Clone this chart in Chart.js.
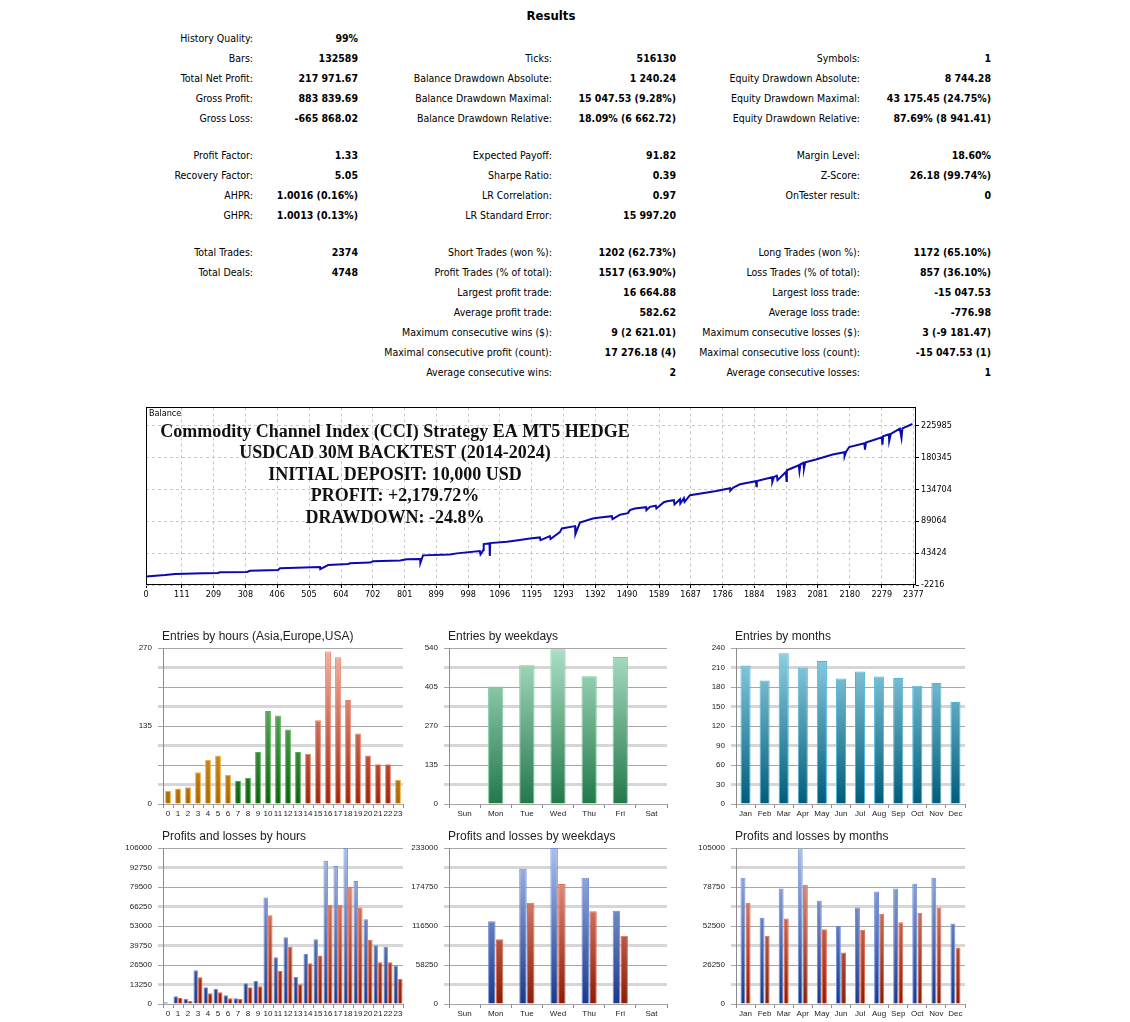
<!DOCTYPE html>
<html>
<head>
<meta charset="utf-8">
<script src="https://cdn.jsdelivr.net/npm/chart.js@4.4.1/dist/chart.umd.min.js"></script>
<style>
html, body { margin: 0; padding: 0; background: #fff; }
body {
  width: 1130px; height: 1022px; position: relative; overflow: hidden;
  font-family: "DejaVu Sans Condensed", "DejaVu Sans", sans-serif; font-stretch: condensed;
}
.t { position: absolute; font-size: 10.5px; line-height: 14px; white-space: nowrap; color: #000; }
.v { font-weight: bold; }
#results { position: absolute; left: 0; width: 1102px; top: 8px; line-height: 16px; text-align: center; font-size: 13px; font-weight: bold; }
canvas { position: absolute; }
</style>
</head>
<body>
<div id="results">Results</div>
<canvas id="balance" width="850" height="205" style="left:140px;top:400px;width:850px;height:205px"></canvas>
<canvas id="hEntries" width="292" height="196" style="left:115px;top:626px;width:292px;height:196px"></canvas>
<canvas id="wEntries" width="271" height="196" style="left:401px;top:626px;width:271px;height:196px"></canvas>
<canvas id="mEntries" width="282" height="196" style="left:688px;top:626px;width:282px;height:196px"></canvas>
<canvas id="hPL" width="292" height="196" style="left:115px;top:826px;width:292px;height:196px"></canvas>
<canvas id="wPL" width="271" height="196" style="left:401px;top:826px;width:271px;height:196px"></canvas>
<canvas id="mPL" width="282" height="196" style="left:688px;top:826px;width:282px;height:196px"></canvas>
<script>
// report table: y, then label/value pairs for the three columns
const statRows = [
  [38, "History Quality:", "99%", "", "", "", ""],
  [58, "Bars:", "132589", "Ticks:", "516130", "Symbols:", "1"],
  [78, "Total Net Profit:", "217 971.67", "Balance Drawdown Absolute:", "1 240.24", "Equity Drawdown Absolute:", "8 744.28"],
  [98, "Gross Profit:", "883 839.69", "Balance Drawdown Maximal:", "15 047.53 (9.28%)", "Equity Drawdown Maximal:", "43 175.45 (24.75%)"],
  [118, "Gross Loss:", "-665 868.02", "Balance Drawdown Relative:", "18.09% (6 662.72)", "Equity Drawdown Relative:", "87.69% (8 941.41)"],
  [155, "Profit Factor:", "1.33", "Expected Payoff:", "91.82", "Margin Level:", "18.60%"],
  [175, "Recovery Factor:", "5.05", "Sharpe Ratio:", "0.39", "Z-Score:", "26.18 (99.74%)"],
  [195, "AHPR:", "1.0016 (0.16%)", "LR Correlation:", "0.97", "OnTester result:", "0"],
  [215, "GHPR:", "1.0013 (0.13%)", "LR Standard Error:", "15 997.20", "", ""],
  [252, "Total Trades:", "2374", "Short Trades (won %):", "1202 (62.73%)", "Long Trades (won %):", "1172 (65.10%)"],
  [272, "Total Deals:", "4748", "Profit Trades (% of total):", "1517 (63.90%)", "Loss Trades (% of total):", "857 (36.10%)"],
  [292, "", "", "Largest profit trade:", "16 664.88", "Largest loss trade:", "-15 047.53"],
  [312, "", "", "Average profit trade:", "582.62", "Average loss trade:", "-776.98"],
  [332, "", "", "Maximum consecutive wins ($):", "9 (2 621.01)", "Maximum consecutive losses ($):", "3 (-9 181.47)"],
  [352, "", "", "Maximal consecutive profit (count):", "17 276.18 (4)", "Maximal consecutive loss (count):", "-15 047.53 (1)"],
  [372, "", "", "Average consecutive wins:", "2", "Average consecutive losses:", "1"]
];
const colEdges = [[253, 358], [552, 676], [860, 991]];

// balance curve (trade number, balance)
const balanceTrades = [0, 59, 90, 177, 223, 229, 313, 322, 409, 415, 539, 540, 564, 626, 632, 694, 703, 787, 808, 849, 850, 858, 941, 963,
  1034, 1036, 1045, 1046, 1064, 1065, 1066, 1118, 1158, 1189, 1220, 1222, 1251, 1253, 1282, 1288, 1329, 1330, 1344, 1384, 1406, 1443, 1445,
  1468, 1493, 1499, 1514, 1549, 1550, 1561, 1579, 1581, 1604, 1614, 1635, 1637, 1654, 1655, 1666, 1668, 1685, 1767, 1809, 1810, 1819,
  1840, 1889, 1891, 1892, 1939, 1940, 1945, 1954, 1956, 1982, 1984, 1985, 2022, 2024, 2027, 2036, 2038, 2042, 2075, 2127, 2163, 2164,
  2168, 2178, 2225, 2227, 2230, 2279, 2281, 2283, 2301, 2302, 2307, 2335, 2340, 2343, 2374];
const balanceValues = [10000, 12046, 13473, 14471, 14899, 15897, 16325, 18179, 19178, 21602, 23457, 20604, 26309, 27735, 28734, 29875, 31586, 32727, 34439, 34867, 29589, 40144, 41285, 42996,
  46277, 41570, 47703, 56260, 57200, 39145, 57687, 59541, 61965, 64105, 65816, 61965, 67670, 63392, 73375, 78652, 81933, 70523, 86925, 92915, 94341, 96195, 91917,
  98335, 100474, 104753, 107177, 109032, 104753, 109459, 111171, 107177, 116163, 117589, 119015, 112882, 120442, 114309, 121868, 116591, 126147, 132279, 136130, 132565, 137129,
  141835, 146114, 138983, 146542, 151819, 145116, 152247, 153958, 147540, 159378, 146542, 161803, 168934, 160377, 170360, 172500, 164227, 173213, 177064, 184195, 187475, 182198,
  187903, 195034, 200312, 191326, 201310, 208869, 198457, 210295, 213148, 203592, 213861, 221277, 207871, 221705, 227972];
const balanceXTicks = [0, 111, 209, 308, 406, 505, 604, 702, 801, 899, 998, 1096, 1195, 1293, 1392, 1490, 1589, 1687, 1786, 1884, 1983, 2081, 2180, 2279, 2377];
const balanceYTicks = [-2216, 43424, 89064, 134704, 180345, 225985];
const balanceNotes = ["Commodity Channel Index (CCI) Strategy EA MT5 HEDGE", "USDCAD 30M BACKTEST (2014-2024)",
  "INITIAL DEPOSIT: 10,000 USD", "PROFIT: +2,179.72%", "DRAWDOWN: -24.8%"];

const hourLabels = ["0", "1", "2", "3", "4", "5", "6", "7", "8", "9", "10", "11", "12", "13", "14", "15", "16", "17", "18", "19", "20", "21", "22", "23"];
const weekdayLabels = ["Sun", "Mon", "Tue", "Wed", "Thu", "Fri", "Sat"];
const monthLabels = ["Jan", "Feb", "Mar", "Apr", "May", "Jun", "Jul", "Aug", "Sep", "Oct", "Nov", "Dec"];
const hourSession = ["asia", "asia", "asia", "asia", "asia", "asia", "asia", "europe", "europe", "europe", "europe", "europe", "europe", "europe",
  "usa", "usa", "usa", "usa", "usa", "usa", "usa", "usa", "usa", "asia"];

const hourEntries = [23, 27, 29, 55, 76, 84, 50, 40, 45, 90, 161, 153, 129, 90, 87, 145, 264, 254, 180, 122, 84, 69, 69, 42];
const weekdayEntries = [0, 407, 480, 536, 442, 509, 0];
const monthEntries = [213, 190, 232, 210, 220, 193, 204, 196, 194, 182, 186, 157];
const hourProfits = [1135, 5220, 3630, 22930, 11350, 10440, 5900, 3860, 14070, 15660, 72410, 31780, 45400, 18390, 34050, 44040, 97380, 93750, 106000, 83540, 57660, 39950, 38820, 26100];
const hourLosses = [450, 4090, 2040, 18160, 7260, 7940, 3860, 3400, 11350, 12030, 60380, 22470, 38820, 13390, 27690, 32910, 67420, 67420, 79680, 65600, 43580, 28380, 28380, 17030];
const weekdayProfits = [0, 123750, 202100, 233000, 188600, 139200, 0];
const weekdayLosses = [0, 96800, 151200, 179100, 138700, 101800, 0];
const monthProfits = [84980, 58000, 77780, 104080, 69460, 52600, 64970, 75760, 77780, 80930, 84980, 54180];
const monthLosses = [68110, 45860, 57550, 80250, 50350, 34620, 49900, 60700, 55080, 61370, 64970, 37990];

const hourEntryTicks = [0, 135, 270];
const weekdayEntryTicks = [0, 135, 270, 405, 540];
const monthEntryTicks = [0, 30, 60, 90, 120, 150, 180, 210, 240];
const hourPLTicks = [0, 13250, 26500, 39750, 53000, 66250, 79500, 92750, 106000];
const weekdayPLTicks = [0, 58250, 116500, 174750, 233000];
const monthPLTicks = [0, 26250, 52500, 78750, 105000];

// --- table
statRows.forEach(row => {
  const y = row[0];
  for (let c = 0; c < 3; c++) {
    const label = row[1 + c * 2], value = row[2 + c * 2];
    if (label) addText(label, colEdges[c][0], y, false);
    if (value) addText(value, colEdges[c][1], y, true);
  }
});
function addText(txt, right, y, bold) {
  const d = document.createElement("div");
  d.className = bold ? "t v" : "t";
  d.textContent = txt;
  d.style.right = (1130 - right) + "px";
  d.style.top = (y - 7) + "px";
  document.body.appendChild(d);
}

Chart.defaults.animation = false;
Chart.defaults.plugins.legend.display = false;
Chart.defaults.plugins.tooltip.enabled = false;

const smallFont = '"DejaVu Sans Condensed", "DejaVu Sans", sans-serif';
const panelFont = '"Liberation Sans", Arial, sans-serif';

// --- balance chart
const balanceDeco = {
  id: "balanceDeco",
  afterDatasetsDraw(chart, args, opts) {
    const { ctx, chartArea: a } = chart;
    ctx.save();
    ctx.setLineDash([]);
    ctx.strokeStyle = "#000";
    ctx.lineWidth = 1;
    ctx.strokeRect(Math.round(a.left) + 0.5, Math.round(a.top) + 0.5, Math.round(a.right - a.left) - 1, Math.round(a.bottom - a.top) - 1);
    ctx.fillStyle = "#000";
    ctx.font = "9px " + smallFont;
    ctx.textBaseline = "middle";
    ctx.fillText("Balance", a.left + 3, a.top + 6);
    ctx.font = 'bold 18px "Liberation Serif", "DejaVu Serif", serif';
    ctx.fillStyle = "#111";
    ctx.textAlign = "center";
    opts.lines.forEach((t, i) => ctx.fillText(t, 255, 32 + i * 21.5));
    ctx.restore();
  }
};

new Chart(document.getElementById("balance"), {
  type: "line",
  data: {
    datasets: [{
      data: balanceTrades.map((t, i) => ({ x: t, y: balanceValues[i] })),
      borderColor: "#0a0ab0",
      borderWidth: 2,
      pointRadius: 0,
      tension: 0
    }]
  },
  options: {
    responsive: false,
    layout: { padding: { left: 6, top: 7, right: 0, bottom: 0 } },
    plugins: { balanceDeco: { lines: balanceNotes } },
    scales: {
      x: {
        type: "linear", min: 0, max: 2385,
        afterBuildTicks: s => { s.ticks = balanceXTicks.map(v => ({ value: v })); },
        afterFit: s => { s.height = 20; },
        ticks: { font: { family: smallFont, size: 9 }, color: "#000", padding: 1, maxRotation: 0, autoSkip: false, callback: v => String(v) },
        grid: { color: "#c8c8c8", tickColor: "#000", tickLength: 3 },
        border: { display: false, dash: [3, 3] }
      },
      y: {
        position: "right", min: -2216, max: 251656,
        afterBuildTicks: s => { s.ticks = balanceYTicks.map(v => ({ value: v })); },
        afterFit: s => { s.width = 74; },
        ticks: { font: { family: smallFont, size: 9 }, color: "#000", padding: 2, callback: v => String(v) },
        grid: { color: "#c8c8c8", tickColor: "#000", tickLength: 3 },
        border: { display: false, dash: [3, 3] }
      }
    }
  },
  plugins: [balanceDeco]
});

// --- bar panels
const palette = {
  asia: ["#f8c860", "#ad6800", "#f2ac38"],
  europe: ["#8ad08a", "#0a620a", "#50ae50"],
  usa: ["#f6b2a2", "#9e240a", "#ec7e66"],
  mint: ["#acdfc6", "#23784a", "#74cc9c"],
  cyan: ["#92d2e6", "#005c7a", "#4cb6d6"],
  blue: ["#abbfec", "#1a388a", "#6f8fd8"],
  red: ["#f2aa9a", "#8a1c06", "#e26a50"]
};
function grad(c, name) {
  const chart = c.chart, a = chart.chartArea;
  const p = palette[name];
  if (!a) return p[1];
  const g = chart.ctx.createLinearGradient(0, a.top, 0, a.bottom);
  g.addColorStop(0, p[0]);
  g.addColorStop(1, p[1]);
  return g;
}

const panelTitle = {
  id: "panelTitle",
  afterDraw(chart, args, opts) {
    const { ctx, chartArea } = chart;
    ctx.save();
    ctx.font = "12px " + panelFont;
    ctx.fillStyle = "#1e1e1e";
    ctx.textBaseline = "middle";
    ctx.fillText(opts.text, chartArea.left - 1, chartArea.top - 11);
    ctx.restore();
  }
};

function barPanel(id, title, labels, sets, yTicks, barPct, catPct, padRight) {
  const yMax = yTicks[yTicks.length - 1];
  const gridVals = [];
  for (let i = 0; i <= 8; i++) gridVals.push(yMax * i / 8);
  new Chart(document.getElementById(id), {
    type: "bar",
    data: {
      labels: labels,
      datasets: sets.map(s => ({
        data: s.data,
        backgroundColor: c => grad(c, s.color(c)),
        borderColor: c => palette[s.color(c)][2],
        borderWidth: c => (c.raw ? 1 : 0),
        barPercentage: barPct,
        categoryPercentage: catPct
      }))
    },
    options: {
      responsive: false,
      layout: { padding: { left: 0, top: 22, right: padRight, bottom: 0 } },
      plugins: { panelTitle: { text: title } },
      scales: {
        x: {
          afterFit: s => { s.height = 18; },
          ticks: { font: { family: panelFont, size: 8 }, color: "#222", padding: 1, maxRotation: 0, autoSkip: false },
          grid: { drawOnChartArea: false, color: "#8c8c8c", tickLength: 4 },
          border: { display: false }
        },
        y: {
          min: 0, max: yMax,
          afterBuildTicks: s => { s.ticks = gridVals.map(v => ({ value: v })); },
          afterFit: s => { s.width = 48; },
          ticks: {
            font: { family: panelFont, size: 8 }, color: "#222", padding: 6,
            callback: v => (yTicks.indexOf(v) >= 0 ? String(v) : "")
          },
          grid: {
            color: c => (c.index % 2 === 0 ? "#a6a6a6" : "#d6d6d6"),
            lineWidth: c => (c.index % 2 === 0 ? 1 : 3),
            tickLength: 5
          },
          border: { display: true, color: "#8c8c8c", width: 1 }
        }
      }
    },
    plugins: [panelTitle]
  });
}

barPanel("hEntries", "Entries by hours (Asia,Europe,USA)", hourLabels,
  [{ data: hourEntries, color: c => hourSession[c.dataIndex] }], hourEntryTicks, 0.58, 1, 4);
barPanel("wEntries", "Entries by weekdays", weekdayLabels,
  [{ data: weekdayEntries, color: () => "mint" }], weekdayEntryTicks, 0.49, 1, 5);
barPanel("mEntries", "Entries by months", monthLabels,
  [{ data: monthEntries, color: () => "cyan" }], monthEntryTicks, 0.53, 1, 5);
barPanel("hPL", "Profits and losses by hours", hourLabels,
  [{ data: hourProfits, color: () => "blue" }, { data: hourLosses, color: () => "red" }], hourPLTicks, 0.97, 0.92, 4);
barPanel("wPL", "Profits and losses by weekdays", weekdayLabels,
  [{ data: weekdayProfits, color: () => "blue" }, { data: weekdayLosses, color: () => "red" }], weekdayPLTicks, 0.96, 0.5, 5);
barPanel("mPL", "Profits and losses by months", monthLabels,
  [{ data: monthProfits, color: () => "blue" }, { data: monthLosses, color: () => "red" }], monthPLTicks, 0.95, 0.54, 5);
</script>
</body>
</html>
